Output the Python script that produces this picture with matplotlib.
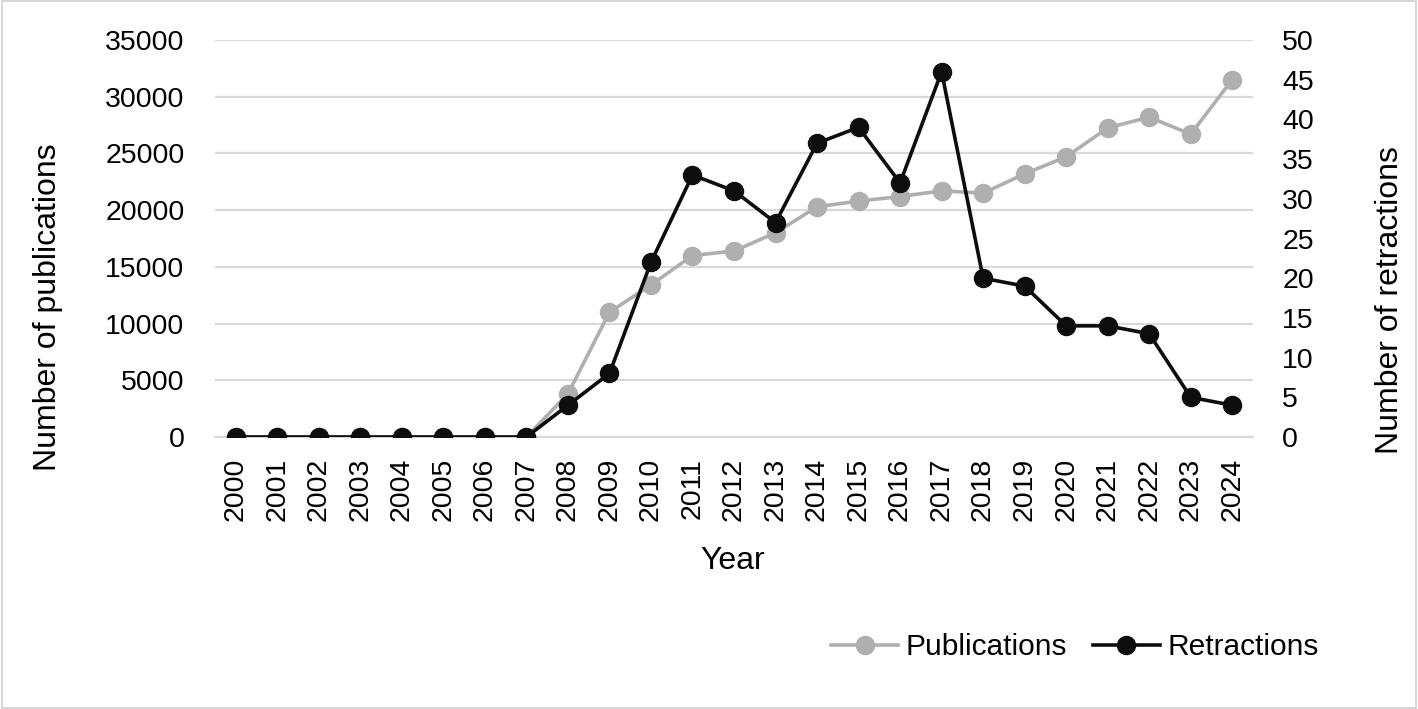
import matplotlib
matplotlib.use("Agg")
import matplotlib.pyplot as plt
from matplotlib.patches import Rectangle

years = [str(y) for y in range(2000, 2025)]
publications = [0, 0, 0, 0, 0, 0, 0, 0, 3800, 11000, 13400, 16000, 16400, 18000,
                20300, 20800, 21200, 21700, 21500, 23200, 24700, 27250, 28200, 26700, 31500]
retractions = [0, 0, 0, 0, 0, 0, 0, 0, 4, 8, 22, 33, 31, 27, 37, 39, 32, 46, 20, 19,
               14, 14, 13, 5, 4]

plt.rcParams['font.family'] = ['Liberation Sans', 'DejaVu Sans']

W, H = 1418, 709
fig = plt.figure(figsize=(W / 100, H / 100), dpi=100)
fig.patches.append(Rectangle((0.0015, 0.002), 0.997, 0.996, transform=fig.transFigure,
                             fill=False, edgecolor='#d0d0d0', linewidth=1.2))
ax_l, ax_r, ax_t, ax_b = 215, 1253, 40, 437
aw, ah = ax_r - ax_l, ax_b - ax_t
ax = fig.add_axes([ax_l / W, 1 - ax_b / H, aw / W, ah / H])
ax2 = ax.twinx()

x = list(range(len(years)))
grey = '#afafaf'
black = '#0d0d0d'

ax.set_ylim(0, 35000)
ax.set_yticks(range(0, 35001, 5000))
ax2.set_ylim(0, 50)
ax2.set_yticks(range(0, 51, 5))
ax.set_xlim(-0.5, len(years) - 0.5)
ax.set_xticks(x)
ax.set_xticklabels(years, rotation=90)

ax.grid(axis='y', color='#d9d9d9', linewidth=1.6)
ax.set_axisbelow(True)
for a in (ax, ax2):
    for s in a.spines.values():
        s.set_visible(False)
    a.tick_params(length=0, labelsize=20.5, colors='black')
ax.spines['bottom'].set_visible(True)
ax.spines['bottom'].set_color('#d9d9d9')
ax.spines['bottom'].set_linewidth(1.6)
ax.tick_params(axis='y', pad=22)
ax.tick_params(axis='x', pad=15)
ax2.tick_params(axis='y', pad=21)

l1, = ax.plot(x, publications, color=grey, linewidth=2.6, marker='o', markersize=13,
              label='Publications', zorder=3)
l2, = ax2.plot(x, retractions, color=black, linewidth=2.6, marker='o', markersize=13,
               label='Retractions', zorder=4)

yl = ax.set_ylabel('Number of publications', fontsize=23)
yl.set_va('center')
ax.yaxis.set_label_coords((48 - ax_l) / aw, (ax_b - 307) / ah)
yr = ax2.set_ylabel('Number of retractions', fontsize=23)
yr.set_va('center')
ax2.yaxis.set_label_coords((1390 - ax_l) / aw, (ax_b - 300) / ah)
xl = ax.set_xlabel('Year', fontsize=23)
xl.set_va('center')
ax.xaxis.set_label_coords((733 - ax_l) / aw, -(561 - ax_b) / ah)

fig.legend(handles=[l1, l2], loc='center', bbox_to_anchor=(1075 / W, 1 - 647 / H), ncol=2,
           frameon=False, fontsize=21.5, handlelength=2.25, columnspacing=0.85,
           handletextpad=0.25, borderpad=0, borderaxespad=0)

fig.savefig('out.png', dpi=100)
